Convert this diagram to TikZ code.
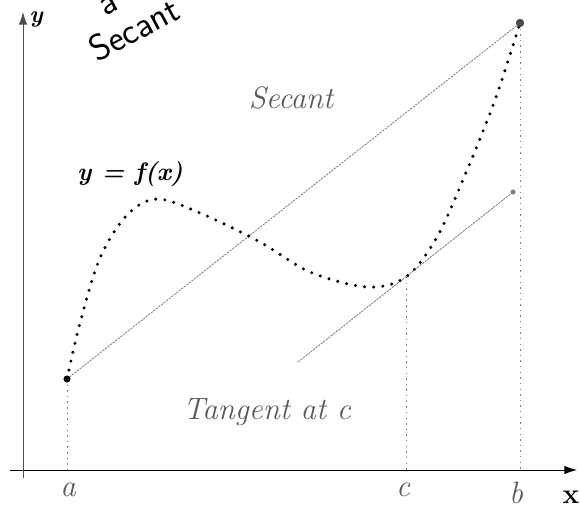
\documentclass[tikz,border=0pt]{standalone}
\usetikzlibrary{arrows.meta}
\begin{document}
\begin{tikzpicture}[>={Latex[length=9pt,width=6pt]},
		curvedots/.style={line width=2.4pt, dash pattern=on 0pt off 6.5pt, line cap=round},
		chord/.style={gray, line width=0.6pt, dash pattern=on 1.6pt off 0.7pt},
		drop/.style={gray, line width=0.6pt, dash pattern=on 1pt off 3pt},
		lbl/.style={gray!70!black, font=\fontsize{22}{26}\selectfont\itshape}]
			\useasboundingbox (-0.575,-0.95) rectangle (13.925,11.75);
			% axes
			\coordinate (O) at (0,0);
			\coordinate (xend) at (13.85,0);
			\coordinate (xbeg) at (-0.325,0);
			\coordinate (yend) at (0,11.45);
			\coordinate (ybeg) at (0,-0.2);
			\draw[->, line width=0.7pt] (xbeg) -- (xend);
			\draw[->, line width=0.6pt, gray!60!black] (ybeg) -- (yend);
			\node[font=\fontsize{20}{24}\selectfont\bfseries] (xlab) at (13.7,-0.68) {x};
			\node[font=\fontsize{17}{20}\selectfont\itshape\bfseries] (ylab) at (0.33,11.25) {y};
			% points
			\coordinate (A) at (1.1,2.275);
			\coordinate (B) at (12.425,11.175);
			\coordinate (C) at (9.575,4.825);
			\coordinate (T1) at (6.875,2.7);
			\coordinate (T2) at (12.25,6.95);
			\coordinate (a0) at (1.1,0);
			\coordinate (c0) at (9.575,0);
			\coordinate (b0) at (12.425,0);
			% secant and tangent
			\draw[chord] (A) -- (B);
			\draw[chord] (T1) -- (T2);
			% dropped lines
			\draw[drop] (A) -- (a0);
			\draw[drop] (C) -- (c0);
			\draw[drop] (B) -- (b0);
			% the curve
			\draw[curvedots] plot[smooth, tension=0.55] coordinates {(1.1,2.275) (1.425,3.675) (1.925,5.3) (2.6,6.375) (3.35,6.775) (4.425,6.425) (5.925,5.7) (7.175,4.95) (8.6,4.575) (9.575,4.825) (10.35,5.825) (11.05,7.375) (11.8,9.25) (12.425,11.175)};
			\fill (A) circle (2.5pt);
			\fill[gray!60!black] (B) circle (3pt);
			\fill[gray] (T2) circle (1.8pt);
			% labels
			\node[lbl] (alab) at (1.125,-0.5) {a};
			\node[lbl] (clab) at (9.5,-0.5) {c};
			\node[lbl] (blab) at (12.325,-0.58) {b};
			\node[lbl] (seclab) at (6.7,9.3) {Secant};
			\node[lbl] (tanlab) at (6.1,1.45) {Tangent at c};
			\node[font=\fontsize{18}{22}\selectfont\bfseries\itshape] (flab) at (2.675,7.4) {y = f(x)};
			% handwritten note
			\node[font=\fontsize{26}{30}\selectfont\sffamily, rotate=28] (note1) at (2.15,11.6) {a};
			\node[font=\fontsize{26}{30}\selectfont\sffamily, rotate=28, anchor=west] (note2) at (1.6,10.4) {Secant};
		\end{tikzpicture}
\end{document}
